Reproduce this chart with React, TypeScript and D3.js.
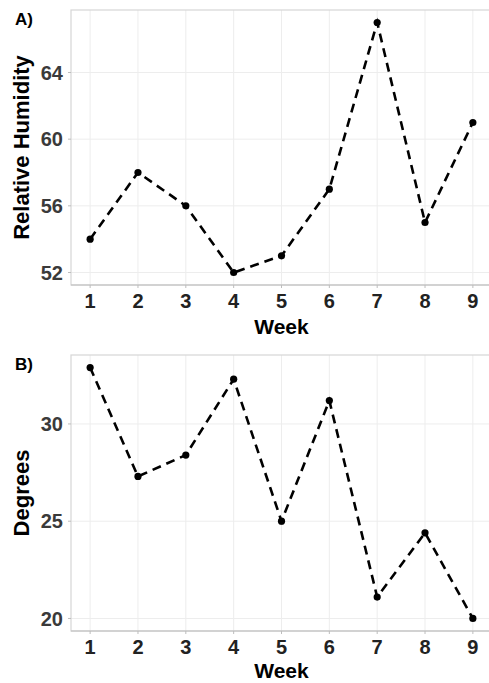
import React from "react";
import * as d3 from "d3";

// Weekly measurements
const weeks = [1, 2, 3, 4, 5, 6, 7, 8, 9];
const humidity = [54, 58, 56, 52, 53, 57, 67, 55, 61];
const degrees = [32.9, 27.3, 28.4, 32.3, 25.0, 31.2, 21.1, 24.4, 20.0];

const humidityTicks = [52, 56, 60, 64];
const degreeTicks = [20, 25, 30];

const W = 489;
const H = 683;
const FONT = "'Liberation Sans', Arial, Helvetica, sans-serif";

type PanelProps = {
  tag: string;
  yLabel: string;
  values: number[];
  yTicks: number[];
  top: number;
  bottom: number;
  titleGap: number;
};

const LEFT = 71;
const RIGHT = 492;

function expand(ext: [number, number]): [number, number] {
  const pad = (ext[1] - ext[0]) * 0.05;
  return [ext[0] - pad, ext[1] + pad];
}

function Panel({ tag, yLabel, values, yTicks, top, bottom, titleGap }: PanelProps) {
  const x = d3
    .scaleLinear()
    .domain(expand(d3.extent(weeks) as [number, number]))
    .range([LEFT, RIGHT]);
  const y = d3
    .scaleLinear()
    .domain(expand(d3.extent(values) as [number, number]))
    .range([bottom, top]);

  const pts = weeks.map((w, i) => [w, values[i]] as [number, number]);
  const line = d3
    .line<[number, number]>()
    .x((d) => x(d[0]))
    .y((d) => y(d[1]));

  return (
    <g>
      {/* panel background grid */}
      {weeks.map((w) => (
        <line
          key={"gx" + w}
          x1={x(w)}
          x2={x(w)}
          y1={top}
          y2={bottom}
          stroke="#ededed"
          strokeWidth={1}
        />
      ))}
      {yTicks.map((t) => (
        <line
          key={"gy" + t}
          x1={LEFT}
          x2={RIGHT}
          y1={y(t)}
          y2={y(t)}
          stroke="#ededed"
          strokeWidth={1}
        />
      ))}
      <rect
        x={LEFT}
        y={top}
        width={RIGHT - LEFT}
        height={bottom - top}
        fill="none"
        stroke="#d6d6d6"
        strokeWidth={1.2}
      />
      <line x1={LEFT} x2={RIGHT} y1={bottom} y2={bottom} stroke="#bdbdbd" strokeWidth={1.2} />

      {/* ticks */}
      {yTicks.map((t) => (
        <g key={"ty" + t}>
          <line x1={LEFT - 3} x2={LEFT} y1={y(t)} y2={y(t)} stroke="#bdbdbd" />
          <text
            x={LEFT - 8}
            y={y(t)}
            dy="0.36em"
            textAnchor="end"
            fontFamily={FONT}
            fontWeight="bold"
            fontSize={20}
            fill="#3a3a3a"
          >
            {t}
          </text>
        </g>
      ))}
      {weeks.map((w) => (
        <g key={"tx" + w}>
          <line x1={x(w)} x2={x(w)} y1={bottom} y2={bottom + 3} stroke="#bdbdbd" />
          <text
            x={x(w)}
            y={bottom + 23}
            textAnchor="middle"
            fontFamily={FONT}
            fontWeight="bold"
            fontSize={20}
            fill="#222"
          >
            {w}
          </text>
        </g>
      ))}

      {/* series */}
      <path
        d={line(pts) || ""}
        fill="none"
        stroke="#000"
        strokeWidth={2.6}
        strokeDasharray="9,6"
      />
      {pts.map((p) => (
        <circle key={"p" + p[0]} cx={x(p[0])} cy={y(p[1])} r={3.6} fill="#000" />
      ))}

      {/* titles */}
      <text
        x={(LEFT + RIGHT) / 2}
        y={bottom + titleGap}
        textAnchor="middle"
        fontFamily={FONT}
        fontWeight="bold"
        fontSize={21}
        fill="#000"
      >
        Week
      </text>
      <text
        transform={`translate(29, ${(top + bottom) / 2}) rotate(-90)`}
        textAnchor="middle"
        fontFamily={FONT}
        fontWeight="bold"
        fontSize={22}
        fill="#000"
      >
        {yLabel}
      </text>
      <text
        x={15}
        y={top + 15}
        fontFamily={FONT}
        fontWeight="bold"
        fontSize={17}
        fill="#000"
      >
        {tag}
      </text>
    </g>
  );
}

export default function App() {
  return (
    <svg
      width={W}
      height={H}
      style={{ position: "absolute", left: 0, top: 0, background: "#fff" }}
    >
      <rect x={0} y={0} width={W} height={H} fill="#fff" />
      <Panel tag="A)" yLabel="Relative Humidity" values={humidity} yTicks={humidityTicks} top={10} bottom={285} titleGap={49} />
      <Panel tag="B)" yLabel="Degrees" values={degrees} yTicks={degreeTicks} top={355} bottom={631} titleGap={47} />
    </svg>
  );
}
